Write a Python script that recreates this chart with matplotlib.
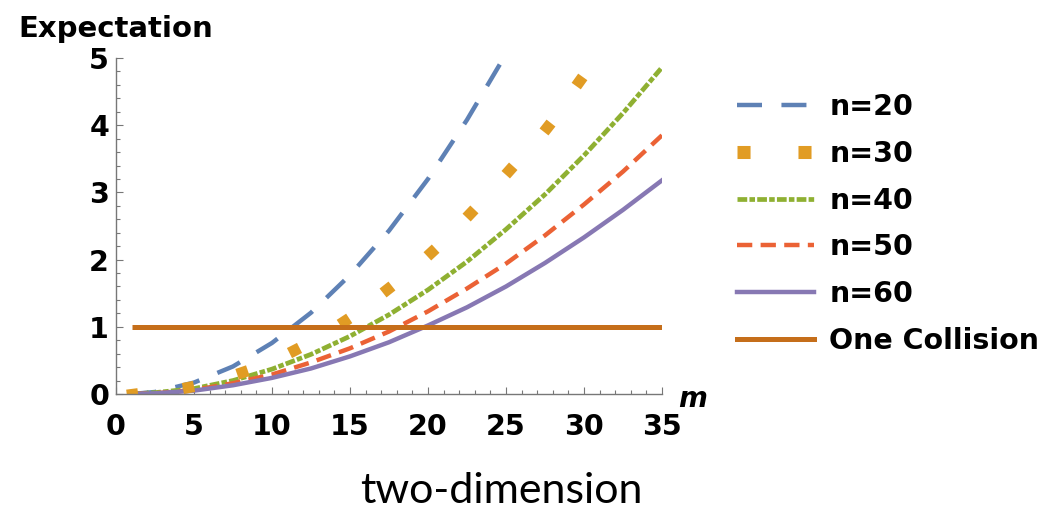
import numpy as np
import matplotlib
matplotlib.use("Agg")
import matplotlib.pyplot as plt
from matplotlib.lines import Line2D
from matplotlib.ticker import MultipleLocator

# values
m_grid = [1, 2.5, 5, 7.5, 10, 12.5, 15, 17.5, 20, 22.5, 25, 27.5, 30, 32.5, 35]
e_n20 = [0, 0.03, 0.17, 0.41, 0.76, 1.21, 1.77, 2.43, 3.20, 4.08, 5.06]
e_n40 = [0, 0.02, 0.08, 0.20, 0.37, 0.59, 0.86, 1.18, 1.55, 1.97, 2.45, 2.97, 3.55, 4.18, 4.86]
e_n50 = [0, 0.01, 0.06, 0.16, 0.29, 0.47, 0.68, 0.93, 1.23, 1.57, 1.94, 2.36, 2.82, 3.31, 3.85]
e_n60 = [0, 0.01, 0.05, 0.13, 0.24, 0.38, 0.56, 0.77, 1.02, 1.29, 1.60, 1.95, 2.33, 2.74, 3.18]
# n=30 is drawn as big dots only
m_n30 = [1, 4.6, 8.1, 11.4, 14.6, 17.4, 20.2, 22.7, 25.2, 27.6, 29.7]
e_n30 = [0, 0.11, 0.32, 0.65, 1.09, 1.56, 2.11, 2.70, 3.33, 3.98, 4.66]
one_m = [1, 35]
one_e = [1, 1]

labels = ["n=20", "n=30", "n=40", "n=50", "n=60", "One Collision"]
colors = ["#5E81B5", "#E19C24", "#8FB032", "#EB6235", "#8778B3", "#C56E1A"]

plt.rcParams['lines.scale_dashes'] = False
bold = dict(family="DejaVu Sans", weight="bold")
green_dash = (7, 1.6, 4, 1.6)

fig = plt.figure(figsize=(10.53, 5.08), dpi=100)
ax = fig.add_axes([116 / 1053, 114 / 508, 546 / 1053, 336 / 508])
ax.set_xlim(0, 35)
ax.set_ylim(0, 5)

ax.plot(m_grid[:len(e_n20)], e_n20, color=colors[0], lw=3.2, dashes=(18, 14))
ax.plot(m_grid, e_n40, color=colors[2], lw=3.4, dashes=green_dash)
ax.plot(m_grid, e_n50, color=colors[3], lw=3.2, dashes=(11, 6))
ax.plot(m_grid, e_n60, color=colors[4], lw=3.2)

# square dots turned along the curve, like the reference
pts = ax.transData.transform(np.column_stack([m_n30, e_n30]))
for i in range(len(m_n30)):
    a = pts[max(i - 1, 0)]
    b = pts[min(i + 1, len(m_n30) - 1)]
    ang = np.degrees(np.arctan2(b[1] - a[1], b[0] - a[0]))
    ax.plot(m_n30[i], e_n30[i], linestyle='none', marker=(4, 0, 45 + ang),
            ms=11.5, color=colors[1], mec='none')

ax.plot(one_m, one_e, color=colors[5], lw=3.6, solid_capstyle='butt')

for s in ['top', 'right']:
    ax.spines[s].set_visible(False)
for s in ['left', 'bottom']:
    ax.spines[s].set_color('#777777')
    ax.spines[s].set_linewidth(1.0)

ax.xaxis.set_major_locator(MultipleLocator(5))
ax.xaxis.set_minor_locator(MultipleLocator(1))
ax.yaxis.set_major_locator(MultipleLocator(1))
ax.yaxis.set_minor_locator(MultipleLocator(0.2))
ax.tick_params(which='both', direction='in', color='#777777', width=0.8)
ax.tick_params(which='major', length=5)
ax.tick_params(which='minor', length=3)
ax.tick_params(axis='x', which='major', pad=13.5)
ax.tick_params(axis='y', which='major', pad=5)
for lab in ax.get_xticklabels() + ax.get_yticklabels():
    lab.set_fontsize(20.5)
    lab.set_fontweight('bold')
    lab.set_family('DejaVu Sans')

fig.text(18 / 1053, 1 - 37 / 508, "Expectation", fontsize=21, ha='left',
         va='baseline', **bold)
fig.text(678 / 1053, 1 - 407 / 508, "m", fontsize=20, ha='left', va='baseline',
         family="DejaVu Sans", weight="bold", style="italic")
fig.text(501 / 1053, 1 - 503 / 508, "two-dimension", fontsize=31, ha='center',
         va='baseline', family="Lato")

# legend handle for n=30: two squares made from a thick dashed line
handles = [
    Line2D([], [], color=colors[0], lw=3.2, dashes=(18, 14)),
    Line2D([], [], color=colors[1], lw=9.4, dashes=(9.4, 34.5), dash_capstyle='butt'),
    Line2D([], [], color=colors[2], lw=3.4, dashes=green_dash),
    Line2D([], [], color=colors[3], lw=3.2, dashes=(11, 6)),
    Line2D([], [], color=colors[4], lw=3.2),
    Line2D([], [], color=colors[5], lw=3.6),
]
fig.legend(handles, labels, loc='upper left', bbox_to_anchor=(728 / 1053, 1 - 93 / 508),
           frameon=False, borderpad=0, borderaxespad=0, numpoints=2,
           handlelength=3.33, handletextpad=0.23, labelspacing=0.66,
           prop=dict(family="DejaVu Sans", weight="bold", size=20.5))

fig.savefig("out.png", dpi=100)
